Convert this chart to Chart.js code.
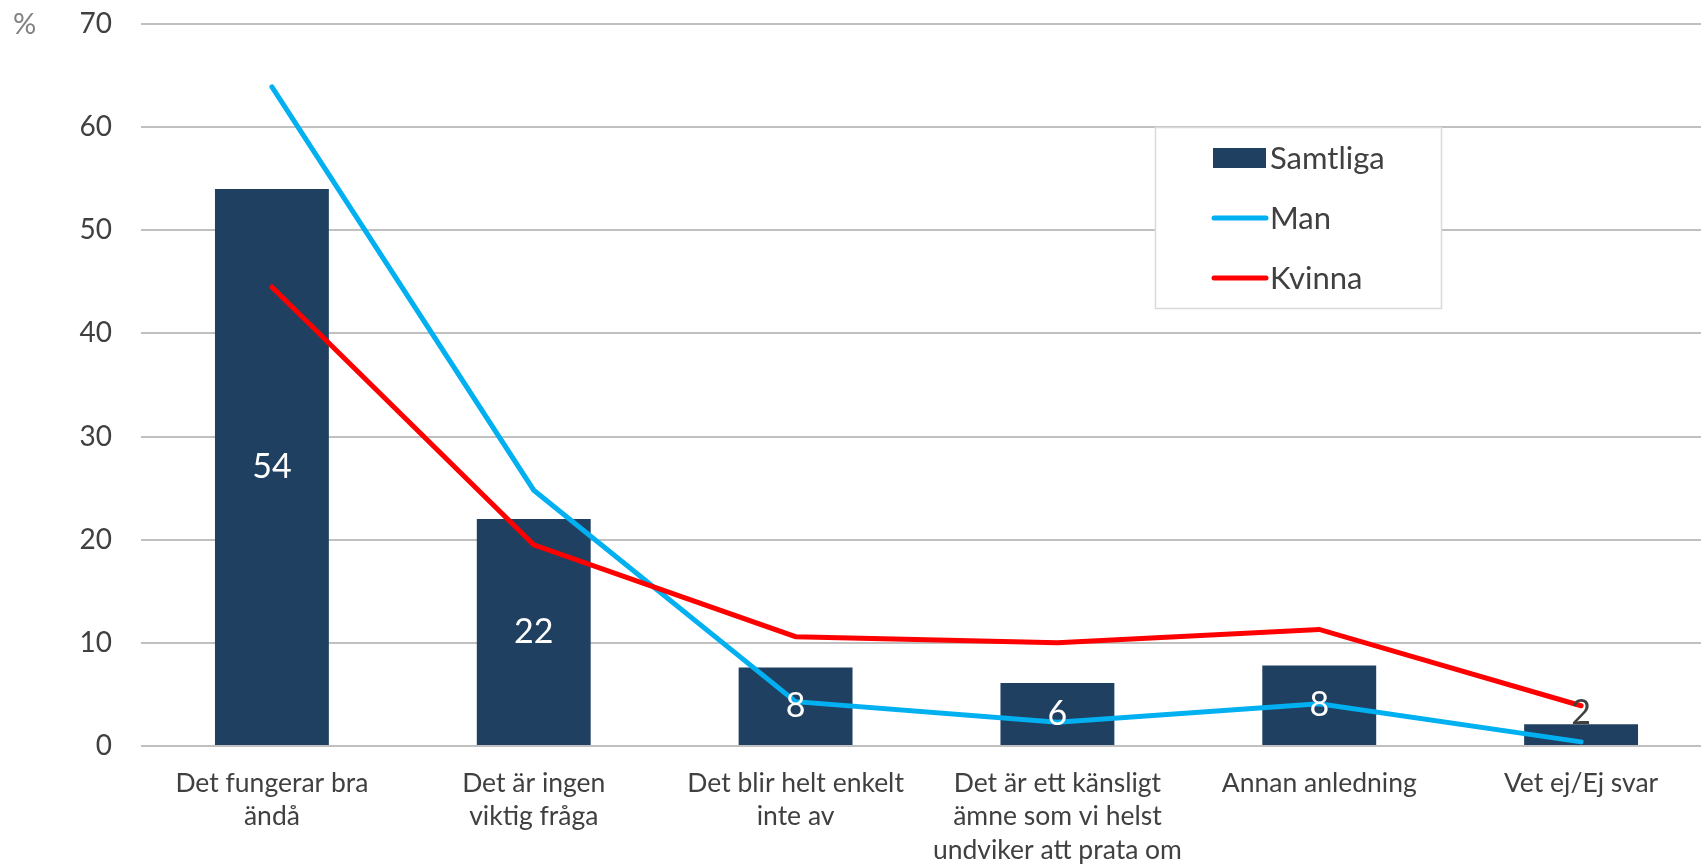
<!DOCTYPE html>
<html>
<head>
<meta charset="utf-8">
<script src="https://cdn.jsdelivr.net/npm/chart.js@4"></script>
<style>
  html, body { margin: 0; padding: 0; background: #fff; overflow: hidden; }
  #wrap { width: 1712px; height: 867px; position: relative; }
</style>
</head>
<body>
<div id="wrap"><canvas id="chart"></canvas></div>
<script>
// ---- data ----
const categories = [
    ['Det fungerar bra', 'ändå'],
    ['Det är ingen', 'viktig fråga'],
    ['Det blir helt enkelt', 'inte av'],
    ['Det är ett känsligt', 'ämne som vi helst', 'undviker att prata om'],
    ['Annan anledning'],
    ['Vet ej/Ej svar']
];
const samtliga = [54, 22, 7.6, 6.1, 7.8, 2.1];
const man = [63.9, 24.8, 4.3, 2.3, 4.1, 0.4];
const kvinna = [44.5, 19.5, 10.6, 10.0, 11.3, 3.9];
const yTicks = [0, 10, 20, 30, 40, 50, 60, 70];

const FONT = 'Lato, "Open Sans", sans-serif';
const TEXT = '#404040';

// value labels on the bars
const barLabels = {
    id: 'barLabels',
    afterDatasetsDraw(chart) {
        const ctx = chart.ctx;
        const meta = chart.getDatasetMeta(0);
        ctx.save();
        ctx.font = '34px ' + FONT;
        ctx.textAlign = 'center';
        ctx.textBaseline = 'middle';
        meta.data.forEach((bar, i) => {
            const v = samtliga[i];
            if (v >= 5) {
                ctx.fillStyle = '#ffffff';
                ctx.fillText(Math.round(v), bar.x, (bar.y + bar.base) / 2);
            } else {
                ctx.fillStyle = TEXT;
                ctx.fillText(Math.round(v), bar.x, bar.y - 11);
            }
        });
        ctx.restore();
    }
};

// "%" unit and boxed legend inside the plot
const extras = {
    id: 'extras',
    afterDraw(chart) {
        const ctx = chart.ctx;
        ctx.save();
        ctx.font = '29px ' + FONT;
        ctx.fillStyle = '#808080';
        ctx.textAlign = 'left';
        ctx.textBaseline = 'middle';
        ctx.fillText('%', 13, 25);

        // legend box
        const bx = 1155.5, by = 127.5, bw = 286, bh = 181;
        ctx.fillStyle = '#ffffff';
        ctx.fillRect(bx, by, bw, bh);
        ctx.strokeStyle = '#d9d9d9';
        ctx.lineWidth = 1.5;
        ctx.strokeRect(bx, by, bw, bh);

        const rows = [158, 218, 278];
        ctx.font = '31px ' + FONT;
        ctx.textBaseline = 'middle';
        chart.data.datasets.forEach((ds, i) => {
            const y = rows[i];
            if (ds.type === 'bar') {
                ctx.fillStyle = ds.backgroundColor;
                ctx.fillRect(1213, y - 10, 53, 20);
            } else {
                ctx.strokeStyle = ds.borderColor;
                ctx.lineWidth = 5;
                ctx.lineCap = 'round';
                ctx.beginPath();
                ctx.moveTo(1214, y);
                ctx.lineTo(1266, y);
                ctx.stroke();
            }
            ctx.fillStyle = TEXT;
            ctx.fillText(ds.label, 1270, y + 1);
        });
        ctx.restore();
    }
};

new Chart(document.getElementById('chart'), {
    data: {
        labels: categories,
        datasets: [
            {
                type: 'bar',
                label: 'Samtliga',
                data: samtliga,
                backgroundColor: '#1f4061',
                barPercentage: 0.435,
                categoryPercentage: 1,
                order: 3
            },
            {
                type: 'line',
                label: 'Man',
                data: man,
                borderColor: '#00b0f0',
                borderWidth: 5,
                borderCapStyle: 'round',
                pointRadius: 0,
                tension: 0,
                order: 2
            },
            {
                type: 'line',
                label: 'Kvinna',
                data: kvinna,
                borderColor: '#ff0000',
                borderWidth: 5,
                borderCapStyle: 'round',
                pointRadius: 0,
                tension: 0,
                order: 1
            }
        ]
    },
    options: {
        responsive: true,
        maintainAspectRatio: false,
        animation: false,
        layout: { padding: { top: 24, left: 0, right: 0, bottom: 0 } },
        plugins: {
            legend: { display: false },
            tooltip: { enabled: false }
        },
        scales: {
            x: {
                grid: { display: false, drawTicks: false },
                border: { display: false },
                ticks: {
                    color: TEXT,
                    font: { family: FONT, size: 26.5, lineHeight: 1.28 },
                    padding: 20,
                    maxRotation: 0,
                    autoSkip: false
                },
                afterFit(scale) { scale.height = 121; }
            },
            y: {
                min: 0,
                max: 70,
                afterBuildTicks(scale) { scale.ticks = yTicks.map(v => ({ value: v })); },
                // invisible tick marks give the label gap without extra top padding
                grid: { color: '#c0c0c0', lineWidth: 2, drawTicks: true, tickLength: 29, tickColor: 'rgba(0,0,0,0)' },
                border: { display: false },
                ticks: {
                    color: TEXT,
                    font: { family: FONT, size: 28 },
                    padding: 0
                },
                afterFit(scale) { scale.width = 141; }
            }
        }
    },
    plugins: [barLabels, extras]
});
</script>
</body>
</html>
